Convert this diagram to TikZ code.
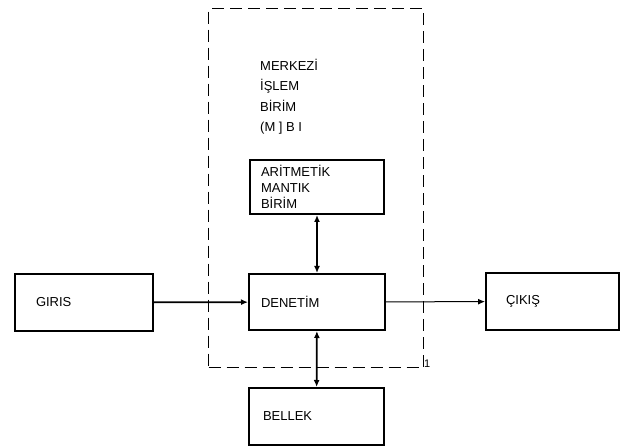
\documentclass[tikz,border=0pt]{standalone}
\usepackage{fontspec}
\setmainfont{Liberation Sans}
\usetikzlibrary{arrows.meta}
\begin{document}
\begin{tikzpicture}[x=1pt,y=-1pt,
  box/.style={draw, line width=2pt, anchor=north west, align=left, inner ysep=0pt,
    font=\fontsize{13}{16}\selectfont},
  cpubox/.style={draw, dashed, dash pattern=on 12pt off 6pt, line width=1.3pt, anchor=north west, inner sep=0pt},
  lbl/.style={anchor=north west, align=left, inner sep=0pt, font=\fontsize{13}{20.5}\selectfont},
  conn/.style={line width=1.8pt},
  tip/.style={-{Latex[length=7pt,width=6pt]}},
  dtip/.style={{Latex[length=7pt,width=6pt]}-{Latex[length=7pt,width=6pt]}}
]
\useasboundingbox (0,0) rectangle (621,446);
\node[cpubox, minimum width=215pt, minimum height=359pt] (cpu) at (208,8) {};
\node[lbl] (cputext) at (260,59) {MERKEZİ\\İŞLEM\\BİRİM\\(M ] B I};
\node[anchor=south west, inner sep=0pt, font=\fontsize{11}{13}\selectfont] (one) at (424,368) {1};
\node[box, inner xsep=11pt, text width=112pt, minimum height=54pt] (alu) at (249,159) {ARİTMETİK\\MANTIK\\BİRİM};
\node[box, inner xsep=12pt, text width=112pt, minimum height=56pt] (den) at (248,273) {DENETİM};
\node[box, inner xsep=14pt, text width=107pt, minimum height=57pt] (bel) at (248,387) {BELLEK};
\node[box, inner xsep=21pt, text width=96pt, minimum height=57pt] (gir) at (14,273) {GIRIS};
\node[box, inner xsep=20pt, text width=93pt, minimum height=57pt] (cik) at (485,272) {ÇIKIŞ};
\draw[conn, tip] (gir) -- (den);
\draw[line width=1pt, tip] (den) -- (cik);
\draw[conn, dtip] (alu) -- (den);
\draw[conn, dtip] (den) -- (bel);
\end{tikzpicture}
\end{document}
